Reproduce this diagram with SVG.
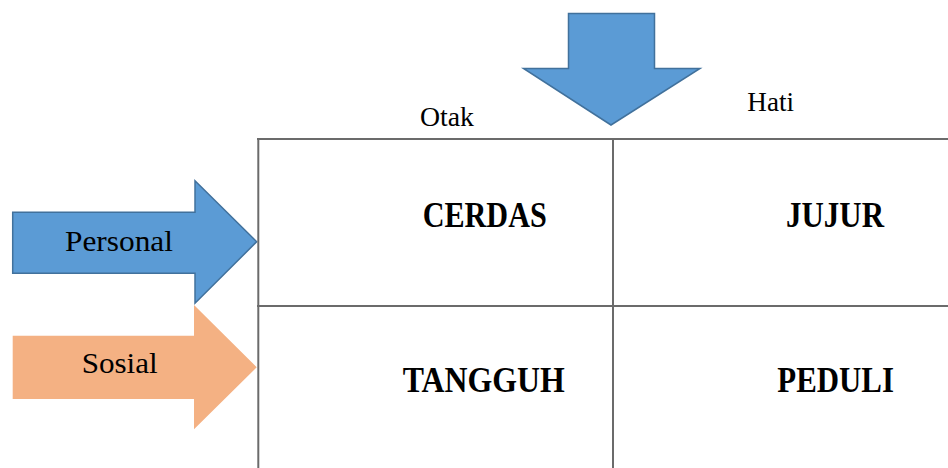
<svg xmlns="http://www.w3.org/2000/svg" width="948" height="468" viewBox="0 0 948 468">
  <style>
    text { font-family: "Liberation Serif", "Times New Roman", serif; fill: #000; }
    .head { font-size: 27px; }
    .side { font-size: 30px; }
    .cell { font-size: 36px; font-weight: bold; }
    .grid line { stroke: #6b6b6b; stroke-width: 2; }
    .blue { fill: #5B9BD5; stroke: #41719C; stroke-width: 1.5; stroke-linejoin: miter; }
    .orange { fill: #F4B183; }
  </style>
  <rect width="948" height="468" fill="#fff"/>

  <!-- top arrow pointing down into the matrix -->
  <g id="arrow-down">
    <polygon class="blue" points="568.5,13.5 654.5,13.5 654.5,68.5 700,68.5 611,125 523.5,68.5 568.5,68.5"/>
  </g>

  <!-- row arrows on the left -->
  <g id="arrow-personal">
    <polygon class="blue" points="12.7,212.3 195,212.3 195,180.7 256.7,241.7 195,303.3 195,273.3 12.7,273.3"/>
    <text class="side" x="65" y="250.7" textLength="108" lengthAdjust="spacingAndGlyphs">Personal</text>
  </g>
  <g id="arrow-sosial">
    <polygon class="orange" points="12.7,335.7 194,335.7 194,305 256.7,367.3 194,429.3 194,399 12.7,399"/>
    <text class="side" x="81.7" y="373.3" textLength="76" lengthAdjust="spacingAndGlyphs">Sosial</text>
  </g>

  <!-- column headings -->
  <g id="col-otak">
    <text class="head" x="420" y="125.7" textLength="54" lengthAdjust="spacingAndGlyphs">Otak</text>
  </g>
  <g id="col-hati">
    <text class="head" x="747.3" y="110.7" textLength="46.7" lengthAdjust="spacingAndGlyphs">Hati</text>
  </g>

  <!-- matrix grid -->
  <g class="grid" id="connectors">
    <line x1="257" y1="139" x2="948" y2="139"/>
    <line x1="257" y1="306" x2="948" y2="306"/>
    <line x1="258.3" y1="138" x2="258.3" y2="468"/>
    <line x1="613" y1="138" x2="613" y2="468"/>
  </g>

  <!-- matrix cells -->
  <g id="cell-cerdas">
    <text class="cell" x="422.7" y="227.3" textLength="124" lengthAdjust="spacingAndGlyphs">CERDAS</text>
  </g>
  <g id="cell-jujur">
    <text class="cell" x="786" y="227.3" textLength="98" lengthAdjust="spacingAndGlyphs">JUJUR</text>
  </g>
  <g id="cell-tangguh">
    <text class="cell" x="402.7" y="391.7" textLength="162" lengthAdjust="spacingAndGlyphs">TANGGUH</text>
  </g>
  <g id="cell-peduli">
    <text class="cell" x="777.3" y="391.7" textLength="116.7" lengthAdjust="spacingAndGlyphs">PEDULI</text>
  </g>
</svg>
